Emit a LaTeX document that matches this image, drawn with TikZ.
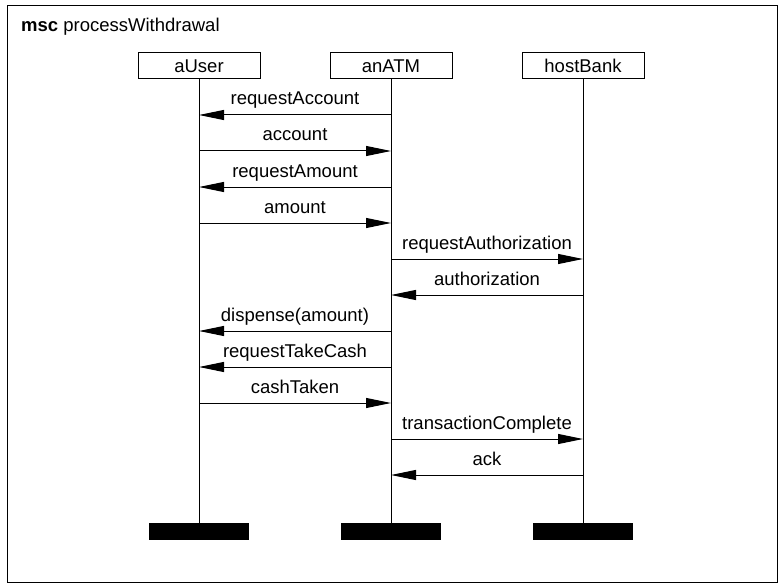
\documentclass[tikz,border=0pt]{standalone}
\usepackage{fontspec}
\setmainfont{Liberation Sans}
\usetikzlibrary{arrows.meta}

\begin{document}
\begin{tikzpicture}[x=1pt, y=-1pt,
		every node/.style={font=\fontsize{18.5}{22}\selectfont},
		instance/.style={draw, line width=1pt, minimum width=122pt, minimum height=26pt, inner sep=0pt},
		instend/.style={draw, fill=black, line width=0.6pt, minimum width=99pt, minimum height=16pt, inner sep=0pt},
		lifeline/.style={line width=1pt},
		msg/.style={line width=1pt, -{Triangle[length=25pt, width=10pt]}},
		msglabel/.style={midway, anchor=base, inner sep=0pt, yshift=10pt}]
	\useasboundingbox (0, 0) rectangle (779, 583);
	\draw[line width=1pt] (7, 6) rectangle (777, 582);
	\draw (21, 32) 	node[anchor=base west, inner sep=0pt] 	(title) 	{\textbf{msc} processWithdrawal};

	\draw (199, 66) 	node[instance] 	(user) 		{aUser};
	\draw (391, 66) 	node[instance] 	(atm) 		{anATM};
	\draw (583, 66) 	node[instance] 	(bank) 		{hostBank};
	\draw (199, 531) 	node[instend] 	(userend) 	{};
	\draw (391, 531) 	node[instend] 	(atmend) 	{};
	\draw (583, 531) 	node[instend] 	(bankend) 	{};

	\draw[lifeline] (user) -- (userend);
	\draw[lifeline] (atm) -- (atmend);
	\draw[lifeline] (bank) -- (bankend);

	% one row of points per message
	\foreach \i in {1,...,11} {
		\coordinate (u\i) at (199, 79 + 36*\i);
		\coordinate (a\i) at (391, 79 + 36*\i);
		\coordinate (h\i) at (583, 79 + 36*\i);
	}

	\foreach \src/\dst/\txt [count=\i] in {a/u/requestAccount, u/a/account, a/u/requestAmount, u/a/amount,
			a/h/requestAuthorization, h/a/authorization, a/u/dispense(amount), a/u/requestTakeCash,
			u/a/cashTaken, a/h/transactionComplete, h/a/ack}
		\draw[msg] (\src\i) -- node[msglabel] (m\i) {\txt} (\dst\i);
\end{tikzpicture}
\end{document}
